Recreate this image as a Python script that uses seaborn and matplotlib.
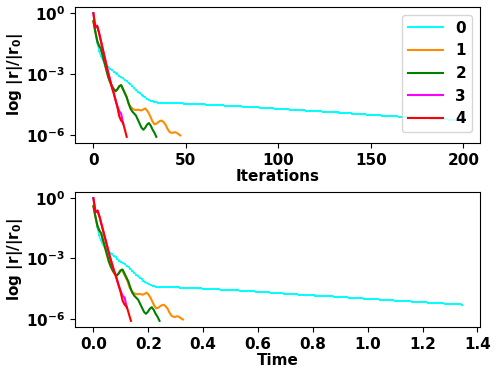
import numpy as np
import pandas as pd
import matplotlib
matplotlib.use("Agg")
import matplotlib.pyplot as plt
import seaborn as sns

plt.rcParams['font.weight'] = 'bold'
plt.rcParams['axes.labelweight'] = 'bold'
plt.rcParams['mathtext.default'] = 'bf'
plt.rcParams['font.size'] = 11

# Series labels and colours
methods = ["0", "1", "2", "3", "4"]
colors = ["cyan", "darkorange", "green", "magenta", "red"]

# log10(|r|/|r0|) per iteration
log_res_0 = [0.0, -0.8, -1.45, -1.85, -2.1, -2.3, -2.45, -2.55, -2.65, -2.73,
             -2.8, -2.88, -2.95, -3.02, -3.1, -3.16, -3.22, -3.29, -3.36, -3.43,
             -3.5, -3.6, -3.7, -3.8, -3.88, -3.95, -4.02, -4.1, -4.16, -4.22,
             -4.27, -4.31, -4.35, -4.38, -4.4, -4.41, -4.41, -4.41, -4.42, -4.42,
             -4.42, -4.43, -4.43, -4.43, -4.44, -4.44, -4.44, -4.45, -4.45, -4.46,
             -4.46, -4.46, -4.47, -4.47, -4.48, -4.48, -4.48, -4.49, -4.49, -4.50,
             -4.50, -4.51, -4.51, -4.52, -4.52, -4.53, -4.53, -4.54, -4.54, -4.55,
             -4.55, -4.56, -4.56, -4.57, -4.57, -4.58, -4.58, -4.59, -4.59, -4.60,
             -4.60, -4.61, -4.61, -4.62, -4.63, -4.63, -4.64, -4.64, -4.65, -4.65,
             -4.66, -4.67, -4.67, -4.68, -4.68, -4.69, -4.70, -4.70, -4.71, -4.71,
             -4.72, -4.73, -4.73, -4.74, -4.74, -4.75, -4.76, -4.76, -4.77, -4.77,
             -4.78, -4.79, -4.79, -4.80, -4.80, -4.81, -4.82, -4.82, -4.83, -4.83,
             -4.84, -4.84, -4.85, -4.85, -4.86, -4.86, -4.87, -4.87, -4.88, -4.88,
             -4.89, -4.90, -4.90, -4.91, -4.91, -4.92, -4.93, -4.93, -4.94, -4.94,
             -4.95, -4.96, -4.96, -4.97, -4.97, -4.98, -4.99, -4.99, -5.00, -5.00,
             -5.01, -5.02, -5.02, -5.03, -5.03, -5.04, -5.05, -5.05, -5.06, -5.06,
             -5.07, -5.08, -5.08, -5.09, -5.09, -5.10, -5.11, -5.11, -5.12, -5.12,
             -5.13, -5.13, -5.14, -5.14, -5.15, -5.15, -5.16, -5.16, -5.17, -5.17,
             -5.18, -5.19, -5.19, -5.20, -5.20, -5.21, -5.22, -5.22, -5.23, -5.23,
             -5.24, -5.24, -5.25, -5.25, -5.26, -5.26, -5.27, -5.27, -5.28, -5.29]
log_res_1 = [-0.4, -0.9, -1.35, -1.6, -1.75, -2.1, -2.45, -2.8, -3.15, -3.4,
             -3.6, -3.75, -3.85, -3.75, -3.6, -3.55, -3.75, -3.95, -4.15, -4.45,
             -4.6, -4.7, -4.76, -4.78, -4.76, -4.78, -4.8, -4.75, -4.7, -4.8,
             -4.95, -5.15, -5.35, -5.48, -5.45, -5.38, -5.32, -5.3, -5.38, -5.5,
             -5.7, -5.84, -5.9, -5.9, -5.87, -5.9, -5.97, -6.03]
log_res_2 = [-0.4, -0.9, -1.35, -1.6, -1.75, -2.1, -2.45, -2.8, -3.15, -3.4,
             -3.6, -3.75, -3.85, -3.75, -3.6, -3.55, -3.75, -3.95, -4.15, -4.45,
             -4.7, -4.85, -4.95, -5.05, -5.25, -5.45, -5.65, -5.75, -5.65, -5.5,
             -5.42, -5.55, -5.75, -5.9, -6.1]
log_res_3 = [0.0, -0.7, -0.62, -0.95, -1.35, -1.75, -2.15, -2.55, -2.95, -3.3,
             -3.65, -3.95, -4.3, -4.6, -4.85, -4.95, -5.45]
log_res_4 = [0.0, -0.7, -0.62, -0.95, -1.35, -1.75, -2.15, -2.55, -2.95, -3.3,
             -3.65, -3.95, -4.3, -4.65, -5.1, -5.3, -5.4, -5.75, -6.1]

# wall-clock time per iteration for each method (seconds)
time_per_iter = [0.006744, 0.00694, 0.00709, 0.0076, 0.0076]

series = [log_res_0, log_res_1, log_res_2, log_res_3, log_res_4]
frames = []
for m, vals, dt in zip(methods, series, time_per_iter):
    it = np.arange(len(vals))
    frames.append(pd.DataFrame({
        "method": m,
        "Iterations": it,
        "Time": it * dt,
        "res": 10.0 ** np.array(vals),
    }))
df = pd.concat(frames, ignore_index=True)
palette = dict(zip(methods, colors))

W, H = 499, 376
fig = plt.figure(figsize=(W / 100, H / 100), dpi=100)
ax1 = fig.add_axes([75 / W, 1 - 143 / H, 405 / W, 136 / H])
ax2 = fig.add_axes([75 / W, 1 - 327 / H, 405 / W, 135 / H])

for ax, xcol in ((ax1, "Iterations"), (ax2, "Time")):
    sns.lineplot(data=df, x=xcol, y="res", hue="method", palette=palette,
                 hue_order=methods, estimator=None, sort=False, lw=1.5,
                 ax=ax, legend=(ax is ax1))
    # cyan series is drawn with small square markers at each iteration
    cy = ax.lines[0]
    cy.set_marker("s")
    cy.set_markersize(2.0)
    cy.set_markeredgewidth(0)
    cy.set_linewidth(1.0)
    ax.set_yscale("log")
    ax.set_yticks([1, 1e-3, 1e-6])
    ax.minorticks_off()
    ax.set_ylabel(r"log |r|/|r$_0$|")
    ax.yaxis.set_label_coords(-0.124, 0.5)
    ax.set_xlabel(xcol, labelpad=1)

ax1.set_xticks([0, 50, 100, 150, 200])
ax2.set_xticks([0.0, 0.2, 0.4, 0.6, 0.8, 1.0, 1.2, 1.4])

leg = ax1.legend(loc="upper right", handlelength=2.3, title=None)
for t in leg.get_texts():
    t.set_fontweight("bold")

fig.savefig("out.png", dpi=100)
